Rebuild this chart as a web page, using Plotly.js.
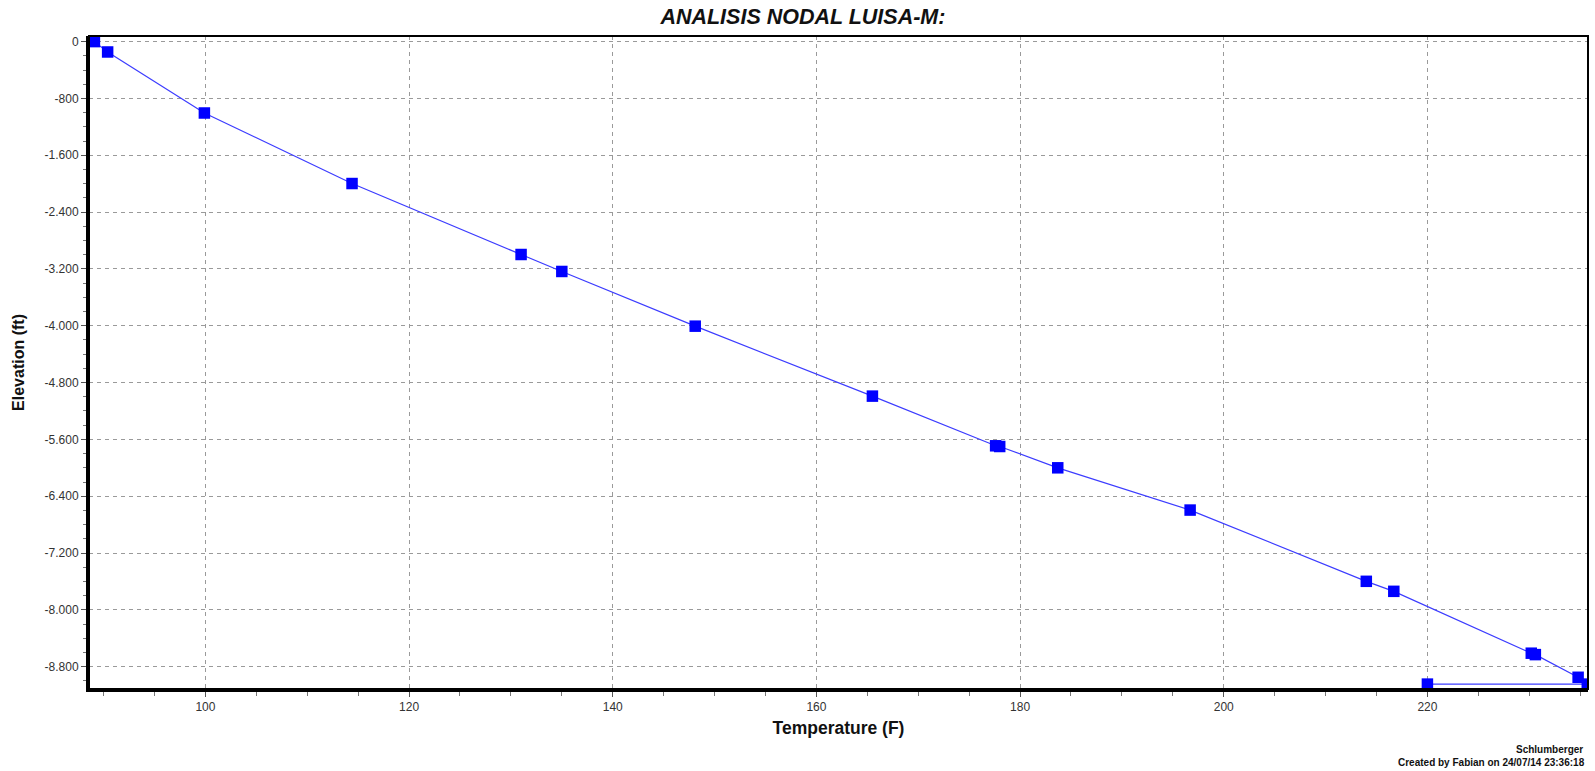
<!DOCTYPE html>
<html>
<head>
<meta charset="utf-8">
<script src="https://cdn.plot.ly/plotly-3.0.1.min.js"></script>
<style>html,body{margin:0;padding:0;background:#fff;}#chart{width:1595px;height:771px;}</style>
</head>
<body>
<div id="chart"></div>
<script>
// Temperature (F) along the well profile
const temperature = [89.1, 90.4, 99.9, 114.4, 131.0, 135.0, 148.1, 165.5, 177.6, 178.0, 183.7, 196.7, 214.0, 216.7, 230.2, 230.6, 234.8, 235.7, 220.0];
// Elevation (ft)
const elevation = [0, -146, -1005, -1998, -2997, -3236, -4006, -4991, -5690, -5700, -6000, -6595, -7598, -7739, -8610, -8630, -8949, -9045, -9045];

const xTickVals = [100, 120, 140, 160, 180, 200, 220];
const xTickText = ["100", "120", "140", "160", "180", "200", "220"];
const yTickVals = [0, -800, -1600, -2400, -3200, -4000, -4800, -5600, -6400, -7200, -8000, -8800];
const yTickText = ["0", "-800", "-1.600", "-2.400", "-3.200", "-4.000", "-4.800", "-5.600", "-6.400", "-7.200", "-8.000", "-8.800"];

const trace = {
  x: temperature,
  y: elevation,
  type: 'scatter',
  mode: 'lines+markers',
  line: {color: '#3c3cff', width: 1.2},
  marker: {symbol: 'square', size: 11.5, color: '#0000ff', line: {width: 0}},
  hoverinfo: 'x+y',
  showlegend: false
};

const fontFam = '"Liberation Sans", Arial, sans-serif';

const layout = {
  width: 1595,
  height: 771,
  paper_bgcolor: '#ffffff',
  plot_bgcolor: '#ffffff',
  margin: {l: 89, r: 7, t: 36, b: 82},
  font: {family: fontFam, size: 12, color: '#222'},
  title: {
    text: 'ANALISIS NODAL LUISA-M:',
    x: 0.5034, xref: 'container', xanchor: 'center',
    y: 0.978, yref: 'container', yanchor: 'middle',
    font: {family: fontFam, size: 21.5, weight: 'bold', style: 'italic', color: '#111'}
  },
  xaxis: {
    range: [88.57, 235.77],
    tickmode: 'array', tickvals: xTickVals, ticktext: xTickText,
    ticks: 'outside', ticklen: 5, tickcolor: '#555', tickwidth: 1,
    showgrid: true, gridcolor: '#9a9a9a', griddash: '4px,4px', gridwidth: 1,
    zeroline: false,
    showline: true, linecolor: '#000', linewidth: 3,
    tickfont: {family: fontFam, size: 12, color: '#333'},
    minor: {dtick: 5, tick0: 0, ticks: 'outside', ticklen: 4, tickcolor: '#777', showgrid: false},
    title: {text: 'Temperature (F)', standoff: 9, font: {family: fontFam, size: 17.5, weight: 'bold', color: '#111'}},
    automargin: false
  },
  yaxis: {
    range: [-9114, 79],
    tickmode: 'array', tickvals: yTickVals, ticktext: yTickText,
    ticks: 'outside', ticklen: 5, tickcolor: '#555', tickwidth: 1,
    showgrid: true, gridcolor: '#9a9a9a', griddash: '4px,4px', gridwidth: 1,
    zeroline: false,
    showline: true, linecolor: '#000', linewidth: 3,
    tickfont: {family: fontFam, size: 12, color: '#333'},
    minor: {dtick: 200, tick0: 0, ticks: 'outside', ticklen: 3, tickcolor: '#777', showgrid: false},
    title: {text: 'Elevation (ft)', standoff: 16, font: {family: fontFam, size: 16, weight: 'bold', color: '#111'}},
    automargin: false
  },
  shapes: [{
    type: 'rect', xref: 'paper', yref: 'paper', x0: 0, x1: 1, y0: 0, y1: 1,
    line: {color: '#000', width: 2}, fillcolor: 'rgba(0,0,0,0)', layer: 'above'
  }],
  annotations: [
    {text: '<b>Schlumberger</b>', xref: 'paper', yref: 'paper', x: 0.998, y: -0.0934,
     xanchor: 'right', yanchor: 'middle', showarrow: false,
     font: {family: fontFam, size: 10, color: '#111'}},
    {text: '<b>Created by Fabian on 24/07/14 23:36:18</b>', xref: 'paper', yref: 'paper', x: 0.9995, y: -0.113,
     xanchor: 'right', yanchor: 'middle', showarrow: false,
     font: {family: fontFam, size: 10, color: '#111'}}
  ]
};

Plotly.newPlot('chart', [trace], layout, {displayModeBar: false, staticPlot: true});
</script>
</body>
</html>
